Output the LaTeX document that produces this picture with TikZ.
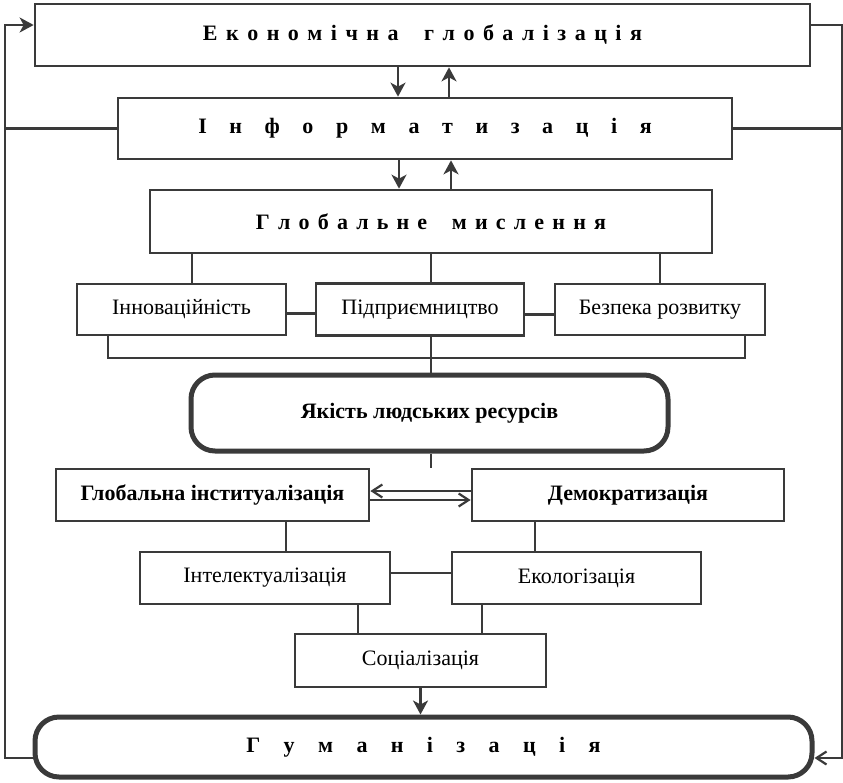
\documentclass[tikz,border=0pt]{standalone}
\usepackage{fontspec}
\setmainfont{Liberation Serif}
\usetikzlibrary{arrows.meta}
\definecolor{framegray}{HTML}{3A3A3A}
\begin{document}
\begin{tikzpicture}[x=1pt,y=-1pt]
          \tikzstyle{every node}=[font=\fontsize{22}{26}\selectfont,inner sep=0pt];
          \tikzstyle{box}=[draw=framegray,line width=2.7pt];
          \tikzstyle{roundbox}=[draw=framegray,line width=5pt,rounded corners=24pt];
          \tikzstyle{conn}=[draw=framegray,line width=2.2pt];
          \tikzstyle{bigarrow}=[conn,-{Stealth[length=14pt,width=15pt,inset=4pt]}];
          \tikzstyle{thinarrow}=[conn,-{Straight Barb[length=10pt,width=13pt]}];
          \useasboundingbox (0,0) rectangle (843,782);
          %\node (name) at (x,y) [style,size] {text};
          \node (eg) at (422.5,35) [box,minimum width=775pt,minimum height=62pt]
            {\bfseries\spaceskip=8.5pt Е к о н о м і ч н а \hspace{8.5pt} г л о б а л і з а ц і я};
          \node (inf) at (425,128.5) [box,minimum width=614pt,minimum height=61pt]
            {\bfseries\spaceskip=22.6pt І н ф о р м а т и з а ц і я};
          \node (glm) at (431,221.5) [box,minimum width=562pt,minimum height=63pt]
            {\bfseries\spaceskip=8.2pt Г л о б а л ь н е \hspace{8.2pt} м и с л е н н я};
          \node (inn) at (181.5,309.5) [box,minimum width=209pt,minimum height=51pt] {Інноваційність};
          \node (pid) at (420,309.5) [box,minimum width=208pt,minimum height=52pt] {Підприємництво};
          \node (bez) at (660,309.5) [box,minimum width=210pt,minimum height=51pt] {Безпека розвитку};
          \node (yak) at (429.5,413) [roundbox,minimum width=477pt,minimum height=76pt]
            {\bfseries Якість людських ресурсів};
          \node (gin) at (212.5,495) [box,minimum width=313pt,minimum height=52pt]
            {\bfseries Глобальна інституалізація};
          \node (dem) at (628,495) [box,minimum width=312pt,minimum height=52pt]
            {\bfseries Демократизація};
          \node (int) at (265,578) [box,minimum width=250pt,minimum height=52pt] {Інтелектуалізація};
          \node (eko) at (576.5,578) [box,minimum width=249pt,minimum height=52pt] {Екологізація};
          \node (soc) at (420.5,660.5) [box,minimum width=251pt,minimum height=53pt] {Соціалізація};
          \node (gum) at (423.5,747) [roundbox,minimum width=777pt,minimum height=60pt]
            {\bfseries\spaceskip=23.4pt Г у м а н і з а ц і я};
          \coordinate (lft) at (5,400);
          \coordinate (rgt) at (842,400);
          \coordinate (stub) at ([xshift=1.5pt]yak.south |- gin.north);
          % feedback loops
          \draw[bigarrow] ([yshift=-11pt]gum.west) -| (lft) |- ([yshift=10pt]eg.west);
          \draw[conn] (inf.west) -- (inf.west -| lft);
          \draw[thinarrow] ([yshift=10pt]eg.east) -| (rgt) |- ([yshift=-11pt]gum.east);
          \draw[conn] (inf.east) -- (inf.east -| rgt);
          % up and down
          \draw[bigarrow] ([xshift=-24.5pt]eg.south) -- ([xshift=-24.5pt]eg.south |- inf.north);
          \draw[bigarrow] ([xshift=26.5pt]eg.south |- inf.north) -- ([xshift=26.5pt]eg.south);
          \draw[bigarrow] ([xshift=-32pt]glm.north |- inf.south) -- ([xshift=-32pt]glm.north);
          \draw[bigarrow] ([xshift=20pt]glm.north) -- ([xshift=20pt]glm.north |- inf.south);
          \draw[conn] ([xshift=10.5pt]inn.north) -- ([xshift=10.5pt]inn.north |- glm.south);
          \draw[conn] ([xshift=11pt]pid.north) -- ([xshift=11pt]pid.north |- glm.south);
          \draw[conn] (bez.north) -- (bez.north |- glm.south);
          \draw[conn] ([yshift=-4pt]inn.east) -- ([yshift=-4pt]pid.west);
          \draw[conn] ([yshift=-5pt]pid.east) -- ([yshift=-5pt]bez.west);
          \draw[conn] ([xshift=-73.5pt]inn.south) -- ++(0,22) -| ([xshift=85pt]bez.south);
          \draw[conn] ([xshift=11pt]pid.south) -- ([xshift=11pt]pid.south |- yak.north);
          \draw[conn] ([xshift=1.5pt]yak.south) -- (stub);
          \draw[thinarrow] ([yshift=4pt]dem.west) -- ([yshift=4pt]dem.west -| gin.east);
          \draw[thinarrow] ([yshift=-5pt]gin.east) -- ([yshift=-5pt]gin.east -| dem.west);
          \draw[conn] ([xshift=73.5pt]gin.south) -- ([xshift=73.5pt]gin.south |- int.north);
          \draw[conn] ([xshift=-93pt]dem.south) -- ([xshift=-93pt]dem.south |- eko.north);
          \draw[conn] ([yshift=5pt]int.east) -- ([yshift=5pt]int.east -| eko.west);
          \draw[conn] ([xshift=93pt]int.south) -- ([xshift=93pt]int.south |- soc.north);
          \draw[conn] ([xshift=-94.5pt]eko.south) -- ([xshift=-94.5pt]eko.south |- soc.north);
          \draw[bigarrow] (soc.south) -- (soc.south |- gum.north);
      \end{tikzpicture}
\end{document}
